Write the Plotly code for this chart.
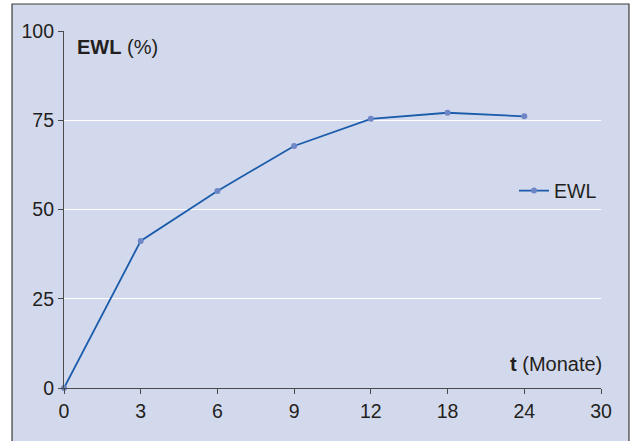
import plotly.graph_objects as go

categories = ["0", "3", "6", "9", "12", "18", "24", "30"]
months = ["0", "3", "6", "9", "12", "18", "24"]
ewl = [0, 41.2, 55.2, 67.8, 75.4, 77.1, 76.1]
y_ticks = [0, 25, 50, 75, 100]

BG = "#D3D9EC"
FONT = "Liberation Sans, Arial, Helvetica, sans-serif"
INK = "#231F20"

fig = go.Figure()
fig.add_trace(go.Scatter(
    x=months, y=ewl, name="EWL", mode="lines+markers",
    line=dict(color="#1A5CAB", width=1.8),
    marker=dict(color="#6E85C6", size=6),
    cliponaxis=False,
))

fig.update_layout(
    width=637, height=441,
    margin=dict(l=64, r=36, t=31, b=53),
    paper_bgcolor="white",
    plot_bgcolor="rgba(0,0,0,0)",
    font=dict(family=FONT, size=19.5, color=INK),
    showlegend=True,
    legend=dict(x=0.838, y=0.552, xanchor="left", yanchor="middle",
                bgcolor="rgba(0,0,0,0)", font=dict(size=19.5, color=INK)),
    xaxis=dict(
        type="category", categoryorder="array", categoryarray=categories,
        range=[0, 7], showgrid=False, zeroline=False,
        showline=True, linecolor="#4A4A4A", linewidth=1.2,
        ticks="outside", ticklen=5, tickcolor="#4A4A4A", tickwidth=1.2,
        tickfont=dict(size=19.5, color=INK),
    ),
    yaxis=dict(
        range=[0, 100], tickvals=y_ticks, showgrid=True,
        gridcolor="white", gridwidth=1.2, zeroline=False,
        showline=True, linecolor="#4A4A4A", linewidth=1.2,
        ticks="outside", ticklen=5, tickcolor="#4A4A4A", tickwidth=1.2,
        tickfont=dict(size=19.5, color=INK),
    ),
    shapes=[dict(
        type="rect", xref="paper", yref="paper",
        x0=-0.0968, x1=1.0521, y0=-0.2, y1=1.0756,
        fillcolor=BG, line=dict(color="#3A3A3A", width=1.2), layer="below",
    )],
    annotations=[
        dict(text="<b>EWL</b> (%)", xref="paper", yref="paper",
             x=0.0205, y=0.955, xanchor="left", yanchor="middle",
             showarrow=False, font=dict(size=20, color=INK)),
        dict(text="<b>t</b> (Monate)", xref="paper", yref="paper",
             x=1.0056, y=0.067, xanchor="right", yanchor="middle",
             showarrow=False, font=dict(size=20, color=INK)),
    ],
)

fig.write_html("out.html", config={"displayModeBar": False},
               post_script="document.body.style.margin='0';")
